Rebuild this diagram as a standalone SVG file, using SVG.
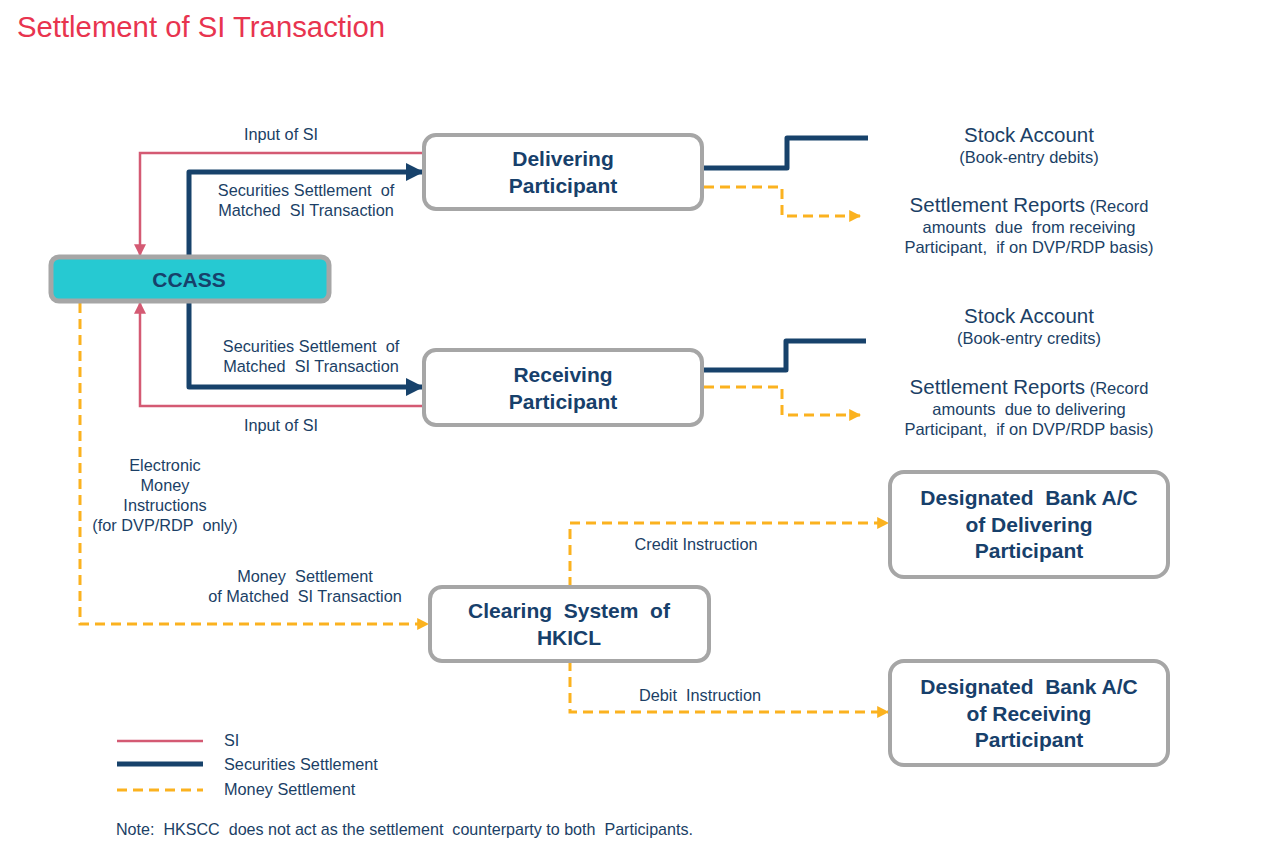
<svg xmlns="http://www.w3.org/2000/svg" width="1285" height="849" viewBox="0 0 1285 849" xml:space="preserve">
<defs>
<style>
text{font-family:"Liberation Sans",Arial,sans-serif;fill:#1b3f66;white-space:pre}
.lbl{font-size:16.3px;text-anchor:middle}
.nd{font-size:21px;font-weight:bold;text-anchor:middle;fill:#17406b}
.box{fill:#fff;stroke:#a6a6a6;stroke-width:4}
.si{fill:none;stroke:#d45a73;stroke-width:2.5}
.sec{fill:none;stroke:#17426b;stroke-width:5;stroke-linejoin:round}
.mon{fill:none;stroke:#fbb21f;stroke-width:3;stroke-dasharray:10 6}
.big{font-size:20.5px;text-anchor:middle}
.sm{font-size:16.5px;text-anchor:middle}
</style>
<marker id="aR" viewBox="0 0 10 10" refX="9" refY="5" markerWidth="12" markerHeight="12" markerUnits="userSpaceOnUse" orient="auto"><path d="M0,0L10,5L0,10z" fill="#d45a73"/></marker>
<marker id="aN" viewBox="0 0 10 10" refX="9" refY="5" markerWidth="18" markerHeight="18" markerUnits="userSpaceOnUse" orient="auto"><path d="M0,0L10,5L0,10z" fill="#17426b"/></marker>
<marker id="aO" viewBox="0 0 10 10" refX="9" refY="5" markerWidth="12" markerHeight="12" markerUnits="userSpaceOnUse" orient="auto"><path d="M0,0L10,5L0,10z" fill="#fbb21f"/></marker>
</defs>
<rect width="1285" height="849" fill="#fff"/>
<text x="17" y="37" style="font-size:29.3px;fill:#e8344f">Settlement of SI Transaction</text>
<g id="connectors">
<path class="si" d="M424,153H140V255" marker-end="url(#aR)"/>
<path class="sec" d="M189,257V172H422" marker-end="url(#aN)"/>
<path class="sec" d="M189,301V387H422" marker-end="url(#aN)"/>
<path class="si" d="M424,406H140V303" marker-end="url(#aR)"/>
<path class="mon" d="M80,303V624H428" marker-end="url(#aO)"/>
<path class="sec" d="M704,168H787V138H868"/>
<path class="mon" d="M704,187H782V216H860" marker-end="url(#aO)"/>
<path class="sec" d="M704,370H786V341H866"/>
<path class="mon" d="M704,387H782V415H860" marker-end="url(#aO)"/>
<path class="mon" d="M570,587V523H888" marker-end="url(#aO)"/>
<path class="mon" d="M570,661V712H888" marker-end="url(#aO)"/>
</g>
<g id="connector-labels">
<text class="lbl" x="281" y="140">Input of SI</text>
<text class="lbl" x="306" y="196">Securities Settlement  of</text>
<text class="lbl" x="306" y="216">Matched  SI Transaction</text>
<text class="lbl" x="311" y="352">Securities Settlement  of</text>
<text class="lbl" x="311" y="372">Matched  SI Transaction</text>
<text class="lbl" x="281" y="431">Input of SI</text>
<text class="lbl" x="165" y="471">Electronic</text>
<text class="lbl" x="165" y="491">Money</text>
<text class="lbl" x="165" y="511">Instructions</text>
<text class="lbl" x="165" y="531">(for DVP/RDP  only)</text>
<text class="lbl" x="305" y="582">Money  Settlement</text>
<text class="lbl" x="305" y="602">of Matched  SI Transaction</text>
<text class="lbl" x="696" y="550">Credit Instruction</text>
<text class="lbl" x="700" y="701">Debit  Instruction</text>
</g>
<g id="ccass">
<rect x="51" y="257" width="278" height="44" rx="8" fill="#26c9d2" stroke="#a6a6a6" stroke-width="5"/>
<text class="nd" x="189" y="287">CCASS</text>
</g>
<g id="delivering">
<rect class="box" x="424" y="135" width="278" height="74" rx="12"/>
<text class="nd" x="563" y="166">Delivering</text>
<text class="nd" x="563" y="193">Participant</text>
</g>
<g id="receiving">
<rect class="box" x="424" y="350" width="278" height="75" rx="12"/>
<text class="nd" x="563" y="382">Receiving</text>
<text class="nd" x="563" y="409">Participant</text>
</g>
<g id="hkicl">
<rect class="box" x="430" y="587" width="279" height="74" rx="12"/>
<text class="nd" x="569" y="618">Clearing  System  of</text>
<text class="nd" x="569" y="645">HKICL</text>
</g>
<g id="bank-delivering">
<rect class="box" x="890" y="472" width="278" height="105" rx="14"/>
<text class="nd" x="1029" y="505">Designated  Bank A/C</text>
<text class="nd" x="1029" y="532">of Delivering</text>
<text class="nd" x="1029" y="558">Participant</text>
</g>
<g id="bank-receiving">
<rect class="box" x="890" y="661" width="278" height="104" rx="14"/>
<text class="nd" x="1029" y="694">Designated  Bank A/C</text>
<text class="nd" x="1029" y="721">of Receiving</text>
<text class="nd" x="1029" y="747">Participant</text>
</g>
<g id="stock-delivering">
<text class="big" x="1029" y="142">Stock Account</text>
<text class="sm" x="1029" y="163">(Book-entry debits)</text>
</g>
<g id="reports-delivering">
<text class="sm" x="1029" y="212"><tspan style="font-size:20.5px">Settlement Reports</tspan> (Record</text>
<text class="sm" x="1029" y="233">amounts  due  from receiving</text>
<text class="sm" x="1029" y="253">Participant,  if on DVP/RDP basis)</text>
</g>
<g id="stock-receiving">
<text class="big" x="1029" y="323">Stock Account</text>
<text class="sm" x="1029" y="344">(Book-entry credits)</text>
</g>
<g id="reports-receiving">
<text class="sm" x="1029" y="394"><tspan style="font-size:20.5px">Settlement Reports</tspan> (Record</text>
<text class="sm" x="1029" y="415">amounts  due to delivering</text>
<text class="sm" x="1029" y="435">Participant,  if on DVP/RDP basis)</text>
</g>
<g id="legend">
<line class="si" x1="117" y1="741" x2="203" y2="741"/>
<line class="sec" x1="117" y1="764" x2="203" y2="764" style="stroke-linejoin:miter"/>
<line class="mon" x1="117" y1="790" x2="203" y2="790"/>
<text x="224" y="746" style="font-size:16.3px">SI</text>
<text x="224" y="770" style="font-size:16.3px">Securities Settlement</text>
<text x="224" y="795" style="font-size:16.3px">Money Settlement</text>
<text x="116" y="835" style="font-size:16.1px">Note:  HKSCC  does not act as the settlement  counterparty to both  Participants.</text>
</g>
</svg>
